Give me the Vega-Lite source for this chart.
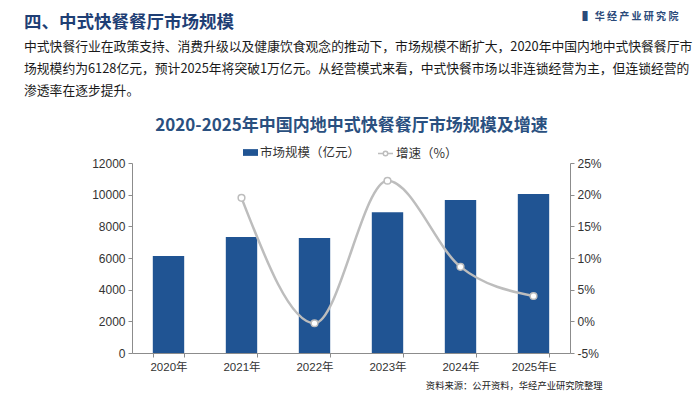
{
  "$schema": "https://vega.github.io/schema/vega-lite/v6.json",
  "width": 438,
  "height": 190,
  "autosize": {"type": "none"},
  "padding": {"left": 132, "top": 163, "right": 130, "bottom": 44},
  "background": "white",
  "config": {
    "view": {"stroke": null},
    "font": "Liberation Sans, Noto Sans CJK SC",
    "axis": {
      "domainColor": "#8c8c8c",
      "tickColor": "#8c8c8c",
      "tickSize": 4,
      "grid": false,
      "labelFont": "Liberation Sans, Noto Sans CJK SC",
      "labelFontSize": 12,
      "labelColor": "#333333"
    }
  },
  "title": {
    "text": "四、中式快餐餐厅市场规模",
    "subtitle": [
      "中式快餐行业在政策支持、消费升级以及健康饮食观念的推动下，市场规模不断扩大，2020年中国内地中式快餐餐厅市",
      "场规模约为6128亿元，预计2025年将突破1万亿元。从经营模式来看，中式快餐市场以非连锁经营为主，但连锁经营的",
      "渗透率在逐步提升。"
    ],
    "anchor": "start",
    "frame": "group",
    "dx": -108,
    "offset": -87,
    "font": "Noto Sans CJK SC",
    "fontSize": 17.5,
    "fontWeight": "bold",
    "color": "#1f3f75",
    "subtitleFont": "Noto Sans CJK SC",
    "subtitleFontSize": 12.8,
    "subtitleColor": "#1a1a1a",
    "subtitleLineHeight": 22,
    "subtitlePadding": 10
  },
  "data": {
    "values": [
      {"year": "2020年", "size": 6128, "growth": null},
      {"year": "2021年", "size": 7320, "growth": 19.5},
      {"year": "2022年", "size": 7270, "growth": -0.3},
      {"year": "2023年", "size": 8890, "growth": 22.2},
      {"year": "2024年", "size": 9660, "growth": 8.6},
      {"year": "2025年E", "size": 10040, "growth": 4.0}
    ]
  },
  "layer": [
    {
      "mark": {"type": "bar"},
      "encoding": {
        "x": {
          "field": "year",
          "type": "nominal",
          "sort": null,
          "scale": {
            "domain": ["2020年", "2021年", "2022年", "2023年", "2024年", "2025年E"],
            "paddingInner": 0.57,
            "paddingOuter": 0.285
          },
          "axis": {
            "orient": "bottom",
            "labelAngle": 0,
            "labelFontSize": 11.5,
            "tickBand": "extent",
            "labelPadding": 4,
            "title": "资料来源：公开资料，华经产业研究院整理",
            "titleX": 470,
            "titleY": 32,
            "titleAlign": "right",
            "titleBaseline": "middle",
            "titleFont": "Noto Sans CJK SC",
            "titleFontSize": 9.3,
            "titleFontWeight": "normal",
            "titleColor": "#222222"
          }
        },
        "y": {
          "field": "size",
          "type": "quantitative",
          "scale": {"domain": [0, 12000]},
          "axis": {
            "orient": "left",
            "values": [0, 2000, 4000, 6000, 8000, 10000, 12000],
            "format": "d",
            "labelPadding": 3,
            "title": null
          }
        },
        "fill": {
          "datum": "市场规模（亿元）",
          "type": "nominal",
          "scale": {"range": ["#205493"]},
          "legend": {
            "orient": "none",
            "legendX": 111,
            "legendY": -18,
            "direction": "horizontal",
            "title": null,
            "symbolType": "M-1,-0.45L1,-0.45L1,0.45L-1,0.45Z",
            "symbolSize": 225,
            "symbolStrokeWidth": 0,
            "labelFont": "Noto Sans CJK SC",
            "labelFontSize": 12.5,
            "labelColor": "#333333",
            "labelOffset": 2
          }
        }
      }
    },
    {
      "transform": [{"filter": "datum.growth != null"}],
      "mark": {
        "type": "line",
        "interpolate": "monotone",
        "strokeWidth": 2.5,
        "point": {"filled": true, "fill": "white", "stroke": "#bdbdbd", "strokeWidth": 1.5, "size": 45}
      },
      "encoding": {
        "x": {
          "field": "year",
          "type": "nominal",
          "sort": null,
          "axis": {
            "orient": "top",
            "labels": false,
            "ticks": false,
            "domain": false,
            "title": "2020-2025年中国内地中式快餐餐厅市场规模及增速",
            "titleX": 219,
            "titleY": -38,
            "titleAlign": "center",
            "titleBaseline": "middle",
            "titleFont": "Noto Sans CJK SC",
            "titleFontSize": 17,
            "titleFontWeight": "bold",
            "titleColor": "#2a5080"
          }
        },
        "y": {
          "field": "growth",
          "type": "quantitative",
          "scale": {"domain": [-5, 25]},
          "axis": {
            "orient": "right",
            "values": [-5, 0, 5, 10, 15, 20, 25],
            "labelExpr": "datum.value + '%'",
            "labelPadding": 3,
            "title": "▌ 华 经 产 业 研 究 院",
            "titleAngle": 0,
            "titleX": 12,
            "titleY": -147,
            "titleAlign": "left",
            "titleBaseline": "middle",
            "titleFont": "Noto Sans CJK SC",
            "titleFontSize": 10,
            "titleFontWeight": "bold",
            "titleColor": "#2b4a7a"
          }
        },
        "stroke": {
          "datum": "增速（%）",
          "type": "nominal",
          "scale": {"range": ["#bdbdbd"]},
          "legend": {
            "orient": "none",
            "legendX": 245,
            "legendY": -18,
            "direction": "horizontal",
            "title": null,
            "symbolType": "M-1,0L-0.3,0M0.3,0L1,0M-0.3,0A0.3,0.3 0 1,1 0.3,0A0.3,0.3 0 1,1 -0.3,0Z",
            "symbolSize": 225,
            "symbolFillColor": "white",
            "symbolStrokeColor": "#bdbdbd",
            "symbolStrokeWidth": 1.5,
            "labelFont": "Noto Sans CJK SC",
            "labelFontSize": 12.5,
            "labelColor": "#333333",
            "labelOffset": 2
          }
        }
      }
    }
  ],
  "resolve": {
    "scale": {"y": "independent", "fill": "independent", "stroke": "independent"},
    "axis": {"x": "independent", "y": "independent"}
  }
}
